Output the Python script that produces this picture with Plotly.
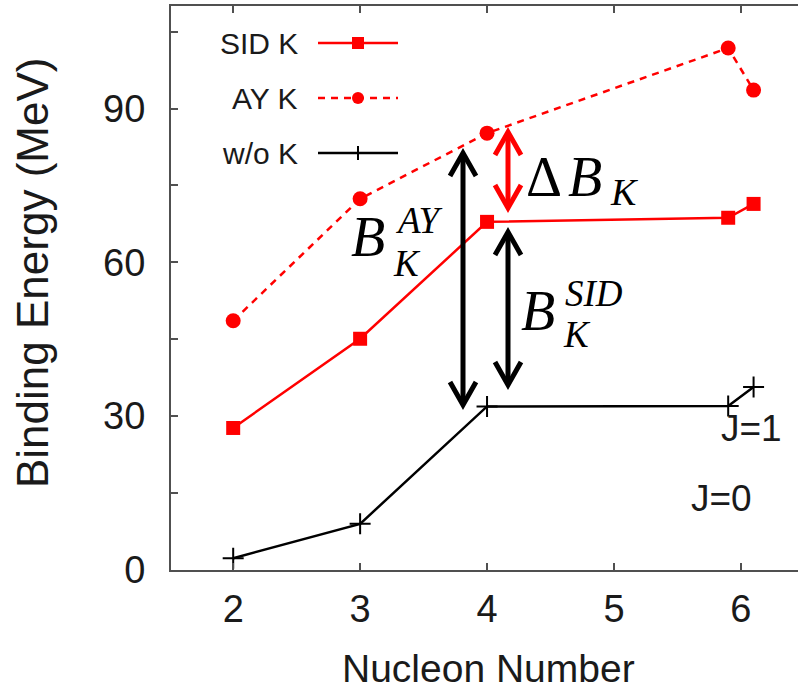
import plotly.graph_objects as go

# ---- data ----
nucleons = [2, 3, 4, 5.9, 6.1]
sid_k = [27.7, 45.1, 67.9, 68.7, 71.4]
ay_k = [48.6, 72.4, 85.2, 101.8, 93.6]
wo_k = [2.3, 9.0, 31.9, 32.0, 35.7]
series_names = ["SID K", "AY K", "w/o K"]
x_ticks = [2, 3, 4, 5, 6]
y_ticks = [0, 30, 60, 90]

RED = "#ff0000"
BLACK = "#000000"
AXIS = "#505050"
TXT = "#1a1a1a"

# ---- geometry helpers (pixel -> data) ----
W, H = 798, 689
L, R, T, B = 171, 798, 6, 570
X0, X1 = 1.51, 6.45
Y0, Y1 = 0, 110


def dx(px):
    return X0 + (px - L) / (R - L) * (X1 - X0)


def dy(py):
    return Y0 + (B - py) / (B - T) * (Y1 - Y0)


fig = go.Figure()
fig.add_trace(go.Scatter(x=nucleons, y=sid_k, mode="lines+markers", name=series_names[0],
                         line=dict(color=RED, width=2.5),
                         marker=dict(symbol="square", size=14, color=RED)))
fig.add_trace(go.Scatter(x=nucleons, y=ay_k, mode="lines+markers", name=series_names[1],
                         line=dict(color=RED, width=2.5, dash="7px,6px"),
                         marker=dict(symbol="circle", size=15, color=RED)))
fig.add_trace(go.Scatter(x=nucleons, y=wo_k, mode="lines+markers", name=series_names[2],
                         line=dict(color=BLACK, width=2.5),
                         marker=dict(symbol="cross-thin", size=15, color=BLACK,
                                     line=dict(color=BLACK, width=2))))

shapes = []
annotations = []

# ---- custom legend (text left of key, as in the reference) ----
leg_rows = [(43, RED, "solid", "square"), (98, RED, "dot", "circle"), (153, BLACK, "solid", "plus")]
for name, (py, col, style, sym) in zip(series_names, leg_rows):
    annotations.append(dict(x=dx(300), y=dy(py), xref="x", yref="y", text=name,
                            showarrow=False, xanchor="right", yanchor="middle",
                            font=dict(family="Liberation Sans", size=30, color=TXT)))
    shapes.append(dict(type="line", xref="x", yref="y", x0=dx(318), x1=dx(398),
                       y0=dy(py), y1=dy(py),
                       line=dict(color=col, width=2.5,
                                 dash="7px,6px" if style == "dot" else "solid")))
    if sym == "square":
        shapes.append(dict(type="rect", xref="x", yref="y", x0=dx(352), x1=dx(364),
                           y0=dy(py + 6), y1=dy(py - 6), fillcolor=col,
                           line=dict(color=col, width=0)))
    elif sym == "circle":
        shapes.append(dict(type="circle", xref="x", yref="y", x0=dx(352), x1=dx(364),
                           y0=dy(py + 6), y1=dy(py - 6), fillcolor=col,
                           line=dict(color=col, width=0)))
    else:
        shapes.append(dict(type="line", xref="x", yref="y", x0=dx(358), x1=dx(358),
                           y0=dy(py + 7), y1=dy(py - 7), line=dict(color=col, width=2)))

# ---- double-headed arrows ----
arrows = [
    (463, 153, 405, BLACK),   # B_K^AY
    (508, 132, 208, RED),     # Delta B_K
    (508, 232, 385, BLACK),   # B_K^SID
]
HW, HL = 13, 23
for px, ptop, pbot, col in arrows:
    shapes.append(dict(type="line", xref="x", yref="y", x0=dx(px), x1=dx(px),
                       y0=dy(ptop + 2), y1=dy(pbot - 2), line=dict(color=col, width=5)))
    top_path = f"M {dx(px - HW)},{dy(ptop + HL)} L {dx(px)},{dy(ptop)} L {dx(px + HW)},{dy(ptop + HL)}"
    bot_path = f"M {dx(px - HW)},{dy(pbot - HL)} L {dx(px)},{dy(pbot)} L {dx(px + HW)},{dy(pbot - HL)}"
    for p in (top_path, bot_path):
        shapes.append(dict(type="path", xref="x", yref="y", path=p,
                           line=dict(color=col, width=5)))

# ---- math-like labels ----
SERIF = "Liberation Serif"


def txt(px, py, text, size, family=SERIF, anchor="left", color=BLACK):
    annotations.append(dict(x=dx(px), y=dy(py), xref="x", yref="y", text=text,
                            showarrow=False, xanchor=anchor, yanchor="middle",
                            borderpad=0,
                            font=dict(family=family, size=size, color=color)))


# Delta B_K
txt(525, 177, "Δ", 56)
txt(567, 177, "<i>B</i>", 56)
txt(609, 192, "<i>K</i>", 38)
# B_K^AY
txt(350, 237, "<i>B</i>", 56)
txt(394, 220, "<i>AY</i>", 37)
txt(392, 263, "<i>K</i>", 37)
# B_K^SID
txt(520, 311, "<i>B</i>", 56)
txt(564, 293, "<i>SID</i>", 37)
txt(562, 334, "<i>K</i>", 37)

# J labels
txt(751, 428, "J=1", 37, family="Liberation Sans", anchor="center", color=TXT)
txt(721, 498, "J=0", 37, family="Liberation Sans", anchor="center", color=TXT)

# axis titles
annotations.append(dict(x=(488 - L) / (R - L), y=(B - 668) / (B - T), xref="paper", yref="paper",
                        text="Nucleon Number", showarrow=False, xanchor="center", yanchor="middle",
                        font=dict(family="Liberation Sans", size=39, color=TXT)))
annotations.append(dict(x=(32 - L) / (R - L), y=(B - 273) / (B - T), xref="paper", yref="paper",
                        text="Binding Energy (MeV)", showarrow=False, textangle=-90,
                        xanchor="center", yanchor="middle",
                        font=dict(family="Liberation Sans", size=44, color=TXT)))

fig.update_layout(
    width=W, height=H,
    margin=dict(l=L, r=W - R, t=T, b=H - B),
    paper_bgcolor="white", plot_bgcolor="white",
    showlegend=False,
    shapes=shapes, annotations=annotations,
    xaxis=dict(range=[X0, X1], tickvals=x_ticks, ticks="inside", ticklen=7, tickwidth=2,
               tickcolor=AXIS, showline=True, linecolor=AXIS, linewidth=2, mirror="ticks",
               showgrid=False, zeroline=False, ticklabelstandoff=4,
               tickfont=dict(family="Liberation Sans", size=38, color=TXT)),
    yaxis=dict(range=[Y0, Y1], tickvals=y_ticks, ticks="inside", ticklen=7, tickwidth=2,
               tickcolor=AXIS, showline=True, linecolor=AXIS, linewidth=2,
               showgrid=False, zeroline=False, ticklabelstandoff=16,
               minor=dict(dtick=15, tick0=0, ticks="inside", ticklen=7, tickwidth=2,
                          tickcolor=AXIS, showgrid=False),
               tickfont=dict(family="Liberation Sans", size=38, color=TXT)),
)

fig.write_html("out.html", config={"displayModeBar": False},
               post_script="document.body.style.margin='0';document.body.style.overflow='hidden';")
